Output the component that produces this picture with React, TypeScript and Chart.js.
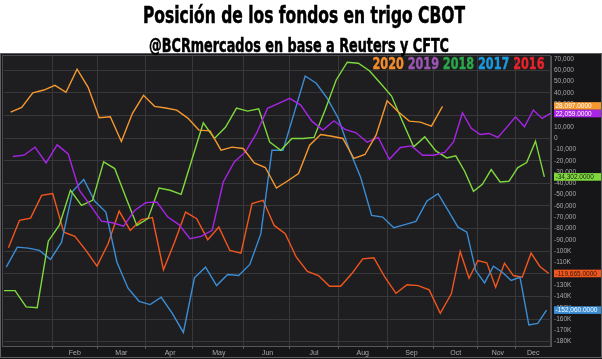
import React, { useEffect, useRef } from 'react';
import { Chart, registerables } from 'chart.js';

Chart.register(...registerables);

const TITLE = 'Posición de los fondos en trigo CBOT';
const SUBTITLE = '@BCRmercados en base a Reuters y CFTC';
const MONTHS = ['Jan', 'Feb', 'Mar', 'Apr', 'May', 'Jun', 'Jul', 'Aug', 'Sep', 'Oct', 'Nov', 'Dec'];

const YEARS = ['2020', '2019', '2018', '2017', '2016'];
const START_DATES = ['2020-01-07', '2019-01-08', '2018-01-02', '2017-01-03', '2016-01-05'];
const LINE_COLORS = ['#f5982e', '#a824e6', '#7fd93c', '#3b8dd4', '#f2561d'];
const LEGEND_COLORS = ['#f58c2a', '#9b55b4', '#2aa84b', '#1a9ae0', '#e8232b'];
const BOX_TEXT = ['#ffffff', '#ffffff', '#1a1a1a', '#ffffff', '#2a1a10'];

const values2020 = [23000, 27200, 40100, 42500, 46700, 40500, 60900, 44900, 18000, 18900, -3000, 21900, 37800, 28100, 26600, 24800, 17700, 7100, 6400, -10700, -8000, -9200, -21900, -26000, -44100, -37900, -31300, -6200, 3200, 1700, -300, -18000, -14500, 2600, 33000, 23300, 15000, 14100, 10600, 28097];
const values2019 = [-16300, -15100, -8000, -21900, -6000, -14000, -46100, -59400, -73400, -74800, -77800, -63900, -57000, -56500, -69800, -76500, -89000, -86900, -81600, -38800, -21000, -12200, 4100, 26300, 30700, 35200, 29200, 15000, 7100, 15300, 7700, 4700, -3600, 600, -18700, -8300, -6900, -15100, -15100, -12700, -3300, 22400, 8600, 3200, 4100, 600, 9500, 18800, 10000, 24800, 17400, 22059];
const values2018 = [-134800, -134800, -149200, -149900, -91100, -76900, -46100, -59400, -55000, -21000, -26900, -52300, -77200, -71200, -44100, -46100, -49700, -18000, 13500, -300, 9500, 26600, 23900, 25900, -3600, -10700, -300, -300, 600, 24800, 51400, 67100, 66200, 59600, 48500, 37200, 14400, -7700, 1100, -11300, -17500, -15700, -29300, -47000, -40800, -27800, -38800, -38200, -26000, -21600, -2700, -34302];
const values2017 = [-114100, -96400, -97300, -99300, -107300, -92000, -47000, -36600, -55900, -65400, -109700, -132700, -144300, -147200, -140700, -154900, -171800, -123500, -114100, -130400, -120600, -121500, -111700, -84500, -10700, -10700, 22100, 54900, 48500, 35200, 17400, -10700, -34300, -68300, -69800, -79200, -76500, -73600, -55600, -49100, -65400, -78700, -83100, -117100, -128000, -113200, -118600, -125900, -123000, -165200, -163800, -152060];
const values2016 = [-96900, -72700, -70700, -50600, -49100, -83100, -86900, -99300, -113200, -93400, -64500, -81600, -72100, -70300, -116400, -92000, -65400, -71200, -89800, -78700, -99300, -101700, -57900, -55000, -77200, -84500, -105300, -117900, -121500, -131000, -131000, -120000, -106700, -105800, -123000, -137200, -129700, -130400, -134200, -154900, -137700, -100200, -123900, -108200, -110200, -131900, -110600, -121500, -123000, -101700, -113500, -119665];
const SERIES_VALUES = [values2020, values2019, values2018, values2017, values2016];

const Y_TICKS = [70000, 60000, 50000, 40000, 30000, 20000, 10000, 0, -10000, -20000, -30000, -40000, -50000, -60000, -70000, -80000, -90000, -100000, -110000, -120000, -130000, -140000, -150000, -160000, -170000, -180000];
const Y_MIN = -183800;
const Y_MAX = 72600;

const HEAD = '"Liberation Sans Narrow", "DejaVu Sans Condensed", "Liberation Sans", Arial, sans-serif';
const SMALL = '"Liberation Sans", Arial, sans-serif';
const GRID = '#38383b';

// weekly report dates of each series, as month-day keys
function weeklyKeys(start: string, n: number): string[] {
  const [y, m, d] = start.split('-').map(Number);
  const out: string[] = [];
  for (let i = 0; i < n; i++) {
    const dt = new Date(Date.UTC(y, m - 1, d + 7 * i));
    const mm = String(dt.getUTCMonth() + 1).padStart(2, '0');
    const dd = String(dt.getUTCDate()).padStart(2, '0');
    out.push(mm + '-' + dd);
  }
  return out;
}

const SERIES_KEYS = SERIES_VALUES.map((v, i) => weeklyKeys(START_DATES[i], v.length));
const SLOTS = Array.from(new Set(SERIES_KEYS.flat())).sort();
const monthOf = (k: string) => Number(k.slice(0, 2)) - 1;

const BOUNDARIES = new Set<number>();
const MONTH_START: Record<number, number> = {};
SLOTS.forEach((k, i) => {
  const m = monthOf(k);
  if (MONTH_START[m] === undefined) MONTH_START[m] = i;
  if (i > 0 && monthOf(SLOTS[i - 1]) !== m) BOUNDARIES.add(i);
});
const LABEL_AT: Record<number, string> = {};
for (let m = 1; m < 12; m++) {
  const s = MONTH_START[m];
  const e = m < 11 ? MONTH_START[m + 1] : SLOTS.length - 1;
  LABEL_AT[Math.round((s + e) / 2)] = MONTHS[m];
}

function fmtTick(v: number): string {
  const a = Math.abs(v);
  if (a >= 100000) return (v < 0 ? '-' : '') + a / 1000 + 'K';
  return (v < 0 ? '-' : '') + String(a).replace(/\B(?=(\d{3})+(?!\d))/g, ',');
}
function fmtLast(v: number): string {
  const [i, f] = Math.abs(v).toFixed(4).split('.');
  return (v < 0 ? '-' : '') + i.replace(/\B(?=(\d{3})+(?!\d))/g, ',') + '.' + f;
}

// draw text squeezed horizontally to a given width (condensed headline look)
function fitText(ctx: CanvasRenderingContext2D, text: string, cx: number, baseline: number, width: number) {
  const w = ctx.measureText(text).width;
  const sx = Math.min(1, width / w);
  ctx.save();
  ctx.translate(cx, baseline);
  ctx.scale(sx, 1);
  ctx.textAlign = 'center';
  ctx.fillText(text, 0, 0);
  ctx.lineWidth = 0.5;
  ctx.strokeStyle = ctx.fillStyle as string;
  ctx.strokeText(text, 0, 0);
  ctx.restore();
}

const decorPlugin = {
  id: 'decor',
  beforeDraw(chart: any) {
    const { ctx, chartArea: a } = chart;
    ctx.save();
    ctx.fillStyle = '#ffffff';
    ctx.fillRect(0, 0, chart.width, chart.height);
    ctx.fillStyle = '#161618';
    ctx.fillRect(0, 53, chart.width, chart.height - 53);
    ctx.strokeStyle = '#606063';
    ctx.lineWidth = 1;
    ctx.strokeRect(0.5, 53.5, chart.width - 1, chart.height - 55);
    ctx.fillStyle = '#1e1e21';
    ctx.fillRect(a.left - 1, a.top, a.right - a.left + 1, a.bottom - a.top);
    ctx.strokeStyle = '#4a4a4e';
    ctx.strokeRect(a.left - 1.5, a.top - 0.5, a.right - a.left + 1, a.bottom - a.top + 1);

    ctx.fillStyle = '#000000';
    ctx.textBaseline = 'alphabetic';
    ctx.font = 'bold 23px ' + HEAD;
    fitText(ctx, TITLE, 304, 22.5, 322);
    ctx.font = 'bold 19px ' + HEAD;
    fitText(ctx, SUBTITLE, 299, 51.5, 300);
    ctx.restore();
  },
  afterDraw(chart: any) {
    const { ctx, chartArea: a } = chart;
    const yScale = chart.scales.y;
    ctx.save();
    // legend text, squeezed to the reference width
    ctx.font = 'bold 16px ' + HEAD;
    ctx.textAlign = 'left';
    ctx.textBaseline = 'alphabetic';
    const space = ctx.measureText(' ').width;
    const widths = YEARS.map((t) => ctx.measureText(t).width);
    const total = widths.reduce((s, w) => s + w, 0) + space * (YEARS.length - 1);
    const sx = Math.min(1, 172 / total);
    ctx.translate(372.5, 68.5);
    ctx.scale(sx, 1);
    let x = 0;
    YEARS.forEach((t, i) => {
      ctx.fillStyle = LEGEND_COLORS[i];
      ctx.fillText(t, x, 0);
      ctx.lineWidth = 0.4;
      ctx.strokeStyle = LEGEND_COLORS[i];
      ctx.strokeText(t, x, 0);
      x += widths[i] + space;
    });
    ctx.setTransform(1, 0, 0, 1, 0, 0);

    // last-value boxes on the right axis
    const H = 7.6;
    const items = SERIES_VALUES.map((v, i) => {
      const last = v[v.length - 1];
      return { y: yScale.getPixelForValue(last), i, text: fmtLast(last) };
    }).sort((p, q) => p.y - q.y);
    for (let k = 1; k < items.length; k++) {
      const gap = items[k].y - items[k - 1].y;
      if (gap < H) {
        const d = (H - gap) / 2;
        items[k - 1].y -= d;
        items[k].y += d;
      }
    }
    ctx.font = '6.5px ' + SMALL;
    ctx.textBaseline = 'middle';
    ctx.textAlign = 'left';
    const x0 = a.right + 3;
    items.forEach((it) => {
      ctx.fillStyle = LINE_COLORS[it.i];
      ctx.fillRect(x0, it.y - H / 2, chart.width - x0 - 1, H);
      ctx.fillStyle = BOX_TEXT[it.i];
      ctx.fillText(it.text, x0 + 1.5, it.y + 0.5);
    });
    ctx.restore();
  },
};

export default function App() {
  const ref = useRef<HTMLCanvasElement>(null);
  useEffect(() => {
    const datasets = SERIES_VALUES.map((vals, i) => ({
      label: YEARS[i],
      data: vals.map((v, j) => ({ x: SERIES_KEYS[i][j], y: v })),
      borderColor: LINE_COLORS[i],
      backgroundColor: LINE_COLORS[i],
      borderWidth: 1.4,
      pointRadius: 0,
      tension: 0,
      fill: false,
    }));
    const chart = new Chart(ref.current as HTMLCanvasElement, {
      type: 'line',
      data: { labels: SLOTS, datasets },
      options: {
        responsive: false,
        animation: false,
        devicePixelRatio: 1,
        layout: { padding: { top: 56, left: 4, right: 0, bottom: 2 } },
        plugins: { legend: { display: false }, tooltip: { enabled: false }, title: { display: false } },
        scales: {
          x: {
            type: 'category',
            offset: false,
            grid: {
              offset: false,
              color: (c: any) => (BOUNDARIES.has(c.index) ? GRID : 'transparent'),
              tickColor: (c: any) => (BOUNDARIES.has(c.index) ? '#55555a' : 'transparent'),
              tickLength: 3,
            },
            border: { display: true, color: '#55555a' },
            ticks: {
              autoSkip: false,
              maxRotation: 0,
              minRotation: 0,
              padding: 0,
              color: '#a8a8a8',
              font: { size: 7, family: SMALL },
              callback: (_v: any, i: number) => LABEL_AT[i] ?? '',
            },
            afterFit: (s: any) => {
              s.height = 11;
            },
          },
          y: {
            position: 'right',
            min: Y_MIN,
            max: Y_MAX,
            afterBuildTicks: (s: any) => {
              s.ticks = Y_TICKS.map((v) => ({ value: v }));
            },
            grid: {
              drawTicks: false,
              color: (c: any) => (c.tick && c.tick.value % 20000 === 0 ? GRID : 'transparent'),
            },
            border: { display: true, color: '#55555a' },
            ticks: {
              padding: 3,
              color: '#a8a8a8',
              font: { size: 6.5, family: SMALL },
              callback: (v: any) => fmtTick(Number(v)),
            },
            afterFit: (s: any) => {
              s.width = 51;
            },
          },
        },
      },
      plugins: [decorPlugin],
    } as any);
    return () => chart.destroy();
  }, []);
  return (
    <div style={{ position: 'fixed', left: 0, top: 0, width: 602, height: 359, background: '#fff' }}>
      <canvas ref={ref} width={602} height={359} style={{ display: 'block', width: 602, height: 359 }} />
    </div>
  );
}
